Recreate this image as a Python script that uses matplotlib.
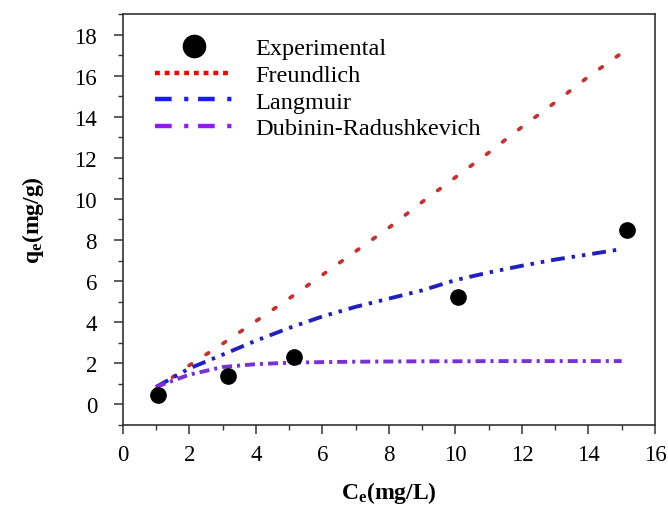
import matplotlib
matplotlib.use("Agg")
import matplotlib.pyplot as plt
from matplotlib.lines import Line2D
from matplotlib.ticker import MultipleLocator

plt.rcParams["font.family"] = "Liberation Serif"
plt.rcParams["mathtext.fontset"] = "custom"
plt.rcParams["mathtext.rm"] = "Liberation Serif"
plt.rcParams["mathtext.bf"] = "Liberation Serif:bold"
plt.rcParams["lines.scale_dashes"] = False

# experimental points
ce_exp = [1.06, 3.16, 5.14, 10.07, 15.15]
qe_exp = [0.46, 1.39, 2.31, 5.23, 8.49]

# model curves
ce_fit = [1, 2, 3, 4, 5, 6, 7, 8, 9, 10, 11, 12, 13, 14, 15]
qe_freundlich = [0.75, 1.9, 2.95, 4.05, 5.15, 6.3, 7.45, 8.6, 9.85, 11.05, 12.25, 13.5, 14.7, 15.95, 17.1]
qe_langmuir = [0.85, 1.75, 2.42, 3.1, 3.72, 4.28, 4.75, 5.15, 5.55, 6.05, 6.42, 6.75, 7.05, 7.3, 7.56]
qe_dr = [0.85, 1.45, 1.82, 1.96, 2.03, 2.06, 2.08, 2.09, 2.1, 2.1, 2.11, 2.11, 2.11, 2.11, 2.11]

labels = ["Experimental", "Freundlich", "Langmuir", "Dubinin-Radushkevich"]

fig = plt.figure(figsize=(6.68, 5.1), dpi=100)
ax = fig.add_axes([0.1837, 0.1647, 0.7968, 0.8059])

ax.plot(ce_fit, qe_freundlich, color="#c83030", lw=2.7,
        linestyle=(0, (2.2, 12.4)), dash_capstyle="round")
ax.plot(ce_fit, qe_langmuir, color="#2020c0", lw=2.8,
        linestyle=(0, (10, 5, 2.5, 5, 2.5, 5)))
ax.plot(ce_fit, qe_dr, color="#7a30d8", lw=2.8,
        linestyle=(0, (7.2, 3.6, 2.2, 3.6)))
ax.plot(ce_exp, qe_exp, "o", color="black", ms=11, zorder=5)

ax.set_xlim(0, 16)
ax.set_ylim(-1, 19)
ax.xaxis.set_major_locator(MultipleLocator(2))
ax.xaxis.set_minor_locator(MultipleLocator(1))
ax.yaxis.set_major_locator(MultipleLocator(2))
ax.yaxis.set_minor_locator(MultipleLocator(1))
ax.set_yticks(range(0, 19, 2))

for s in ax.spines.values():
    s.set_linewidth(1.2)
    s.set_color("#333333")
ax.tick_params(axis="both", which="major", direction="out", length=6.5, width=1.1,
               color="#333333", labelsize=16.5)
ax.tick_params(axis="both", which="minor", direction="out", length=3.5, width=1.0,
               color="#333333")
ax.tick_params(axis="x", which="major", pad=7)
ax.tick_params(axis="y", which="major", pad=12)

ax.set_xlabel(r"$\mathbf{C_e(mg/L)}$", fontsize=17, labelpad=10)
ax.set_ylabel(r"$\mathbf{q_e(mg/g)}$", fontsize=17, labelpad=20)

handles = [
    Line2D([], [], marker="o", color="black", ms=16, linestyle="none"),
    Line2D([], [], color="red", lw=3.2, linestyle=(0, (3.5, 3.5))),
    Line2D([], [], color="#1a1aff", lw=3.2, linestyle=(0, (12, 9, 3, 7))),
    Line2D([], [], color="#8f1aff", lw=3.2, linestyle=(0, (12, 9, 3, 7))),
]
ax.legend(handles, labels, loc="upper left", bbox_to_anchor=(0.06, 0.943),
          frameon=False, fontsize=17.5, handlelength=3.2, handletextpad=0.95,
          labelspacing=0.19, borderpad=0, borderaxespad=0)

plt.savefig("out.png", dpi=100)
